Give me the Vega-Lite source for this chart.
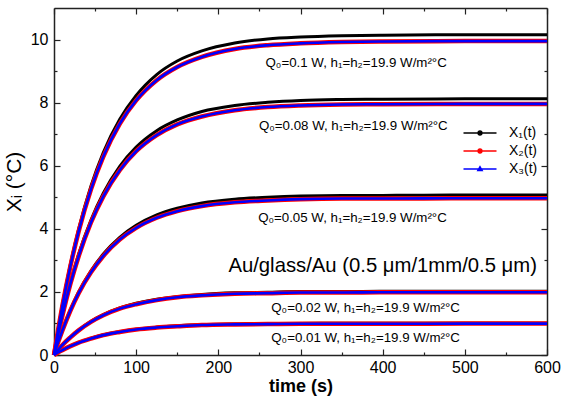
{
  "$schema": "https://vega.github.io/schema/vega-lite/v6.json",
  "width": 493,
  "height": 347,
  "autosize": {"type": "none"},
  "padding": {"left": 54, "top": 8, "right": 16, "bottom": 46},
  "config": {
    "view": {"stroke": null},
    "axis": {
      "grid": false,
      "labelFont": "Liberation Sans",
      "titleFont": "Liberation Sans",
      "labelFontSize": 16,
      "labelColor": "#000",
      "titleColor": "#000",
      "domainColor": "#222",
      "domainWidth": 1.5,
      "tickColor": "#222",
      "tickWidth": 1.2,
      "labelFlush": false
    },
    "legend": {"labelFont": "Liberation Sans"}
  },
  "datasets": {
    "curves": [
      {"t":0,"Q":"0.1","X1":0,"X2":0,"X3":0},
      {"t":5,"Q":"0.1","X1":0.81,"X2":0.80,"X3":0.80},
      {"t":10,"Q":"0.1","X1":1.56,"X2":1.53,"X3":1.53},
      {"t":20,"Q":"0.1","X1":2.88,"X2":2.82,"X3":2.82},
      {"t":30,"Q":"0.1","X1":3.99,"X2":3.92,"X3":3.92},
      {"t":45,"Q":"0.1","X1":5.36,"X2":5.25,"X3":5.25},
      {"t":60,"Q":"0.1","X1":6.42,"X2":6.29,"X3":6.29},
      {"t":80,"Q":"0.1","X1":7.47,"X2":7.33,"X3":7.33},
      {"t":100,"Q":"0.1","X1":8.23,"X2":8.07,"X3":8.07},
      {"t":125,"Q":"0.1","X1":8.89,"X2":8.71,"X3":8.71},
      {"t":150,"Q":"0.1","X1":9.32,"X2":9.13,"X3":9.13},
      {"t":180,"Q":"0.1","X1":9.64,"X2":9.45,"X3":9.45},
      {"t":220,"Q":"0.1","X1":9.89,"X2":9.70,"X3":9.70},
      {"t":260,"Q":"0.1","X1":10.02,"X2":9.82,"X3":9.82},
      {"t":300,"Q":"0.1","X1":10.08,"X2":9.88,"X3":9.88},
      {"t":350,"Q":"0.1","X1":10.12,"X2":9.92,"X3":9.92},
      {"t":400,"Q":"0.1","X1":10.14,"X2":9.94,"X3":9.94},
      {"t":500,"Q":"0.1","X1":10.15,"X2":9.95,"X3":9.95},
      {"t":600,"Q":"0.1","X1":10.15,"X2":9.95,"X3":9.95},

      {"t":0,"Q":"0.08","X1":0,"X2":0,"X3":0},
      {"t":5,"Q":"0.08","X1":0.65,"X2":0.64,"X3":0.64},
      {"t":10,"Q":"0.08","X1":1.25,"X2":1.22,"X3":1.22},
      {"t":20,"Q":"0.08","X1":2.30,"X2":2.26,"X3":2.26},
      {"t":30,"Q":"0.08","X1":3.20,"X2":3.13,"X3":3.13},
      {"t":45,"Q":"0.08","X1":4.28,"X2":4.20,"X3":4.20},
      {"t":60,"Q":"0.08","X1":5.13,"X2":5.03,"X3":5.03},
      {"t":80,"Q":"0.08","X1":5.98,"X2":5.86,"X3":5.86},
      {"t":100,"Q":"0.08","X1":6.59,"X2":6.46,"X3":6.46},
      {"t":125,"Q":"0.08","X1":7.11,"X2":6.97,"X3":6.97},
      {"t":150,"Q":"0.08","X1":7.45,"X2":7.31,"X3":7.31},
      {"t":180,"Q":"0.08","X1":7.72,"X2":7.56,"X3":7.56},
      {"t":220,"Q":"0.08","X1":7.91,"X2":7.76,"X3":7.76},
      {"t":260,"Q":"0.08","X1":8.01,"X2":7.86,"X3":7.86},
      {"t":300,"Q":"0.08","X1":8.07,"X2":7.91,"X3":7.91},
      {"t":350,"Q":"0.08","X1":8.10,"X2":7.94,"X3":7.94},
      {"t":400,"Q":"0.08","X1":8.11,"X2":7.95,"X3":7.95},
      {"t":500,"Q":"0.08","X1":8.12,"X2":7.96,"X3":7.96},
      {"t":600,"Q":"0.08","X1":8.12,"X2":7.96,"X3":7.96},

      {"t":0,"Q":"0.05","X1":0,"X2":0,"X3":0},
      {"t":5,"Q":"0.05","X1":0.41,"X2":0.40,"X3":0.40},
      {"t":10,"Q":"0.05","X1":0.78,"X2":0.76,"X3":0.76},
      {"t":20,"Q":"0.05","X1":1.44,"X2":1.41,"X3":1.41},
      {"t":30,"Q":"0.05","X1":2.00,"X2":1.96,"X3":1.96},
      {"t":45,"Q":"0.05","X1":2.67,"X2":2.62,"X3":2.62},
      {"t":60,"Q":"0.05","X1":3.20,"X2":3.14,"X3":3.14},
      {"t":80,"Q":"0.05","X1":3.73,"X2":3.66,"X3":3.66},
      {"t":100,"Q":"0.05","X1":4.11,"X2":4.03,"X3":4.03},
      {"t":125,"Q":"0.05","X1":4.44,"X2":4.35,"X3":4.35},
      {"t":150,"Q":"0.05","X1":4.65,"X2":4.56,"X3":4.56},
      {"t":180,"Q":"0.05","X1":4.82,"X2":4.72,"X3":4.72},
      {"t":220,"Q":"0.05","X1":4.94,"X2":4.84,"X3":4.84},
      {"t":260,"Q":"0.05","X1":5.00,"X2":4.90,"X3":4.90},
      {"t":300,"Q":"0.05","X1":5.04,"X2":4.94,"X3":4.94},
      {"t":350,"Q":"0.05","X1":5.06,"X2":4.96,"X3":4.96},
      {"t":400,"Q":"0.05","X1":5.06,"X2":4.96,"X3":4.96},
      {"t":500,"Q":"0.05","X1":5.07,"X2":4.97,"X3":4.97},
      {"t":600,"Q":"0.05","X1":5.07,"X2":4.97,"X3":4.97},

      {"t":0,"Q":"0.02","X1":0,"X2":0,"X3":0},
      {"t":5,"Q":"0.02","X1":0.16,"X2":0.16,"X3":0.16},
      {"t":10,"Q":"0.02","X1":0.31,"X2":0.31,"X3":0.31},
      {"t":20,"Q":"0.02","X1":0.57,"X2":0.56,"X3":0.56},
      {"t":30,"Q":"0.02","X1":0.79,"X2":0.78,"X3":0.78},
      {"t":45,"Q":"0.02","X1":1.07,"X2":1.05,"X3":1.05},
      {"t":60,"Q":"0.02","X1":1.28,"X2":1.26,"X3":1.26},
      {"t":80,"Q":"0.02","X1":1.49,"X2":1.47,"X3":1.47},
      {"t":100,"Q":"0.02","X1":1.64,"X2":1.61,"X3":1.61},
      {"t":125,"Q":"0.02","X1":1.77,"X2":1.74,"X3":1.74},
      {"t":150,"Q":"0.02","X1":1.85,"X2":1.83,"X3":1.83},
      {"t":180,"Q":"0.02","X1":1.92,"X2":1.89,"X3":1.89},
      {"t":220,"Q":"0.02","X1":1.97,"X2":1.94,"X3":1.94},
      {"t":260,"Q":"0.02","X1":1.99,"X2":1.96,"X3":1.96},
      {"t":300,"Q":"0.02","X1":2.01,"X2":1.98,"X3":1.98},
      {"t":350,"Q":"0.02","X1":2.01,"X2":1.98,"X3":1.98},
      {"t":400,"Q":"0.02","X1":2.02,"X2":1.99,"X3":1.99},
      {"t":500,"Q":"0.02","X1":2.02,"X2":1.99,"X3":1.99},
      {"t":600,"Q":"0.02","X1":2.02,"X2":1.99,"X3":1.99},

      {"t":0,"Q":"0.01","X1":0,"X2":0,"X3":0},
      {"t":5,"Q":"0.01","X1":0.08,"X2":0.08,"X3":0.08},
      {"t":10,"Q":"0.01","X1":0.16,"X2":0.15,"X3":0.15},
      {"t":20,"Q":"0.01","X1":0.29,"X2":0.28,"X3":0.28},
      {"t":30,"Q":"0.01","X1":0.40,"X2":0.39,"X3":0.39},
      {"t":45,"Q":"0.01","X1":0.53,"X2":0.52,"X3":0.52},
      {"t":60,"Q":"0.01","X1":0.64,"X2":0.63,"X3":0.63},
      {"t":80,"Q":"0.01","X1":0.74,"X2":0.73,"X3":0.73},
      {"t":100,"Q":"0.01","X1":0.82,"X2":0.81,"X3":0.81},
      {"t":125,"Q":"0.01","X1":0.88,"X2":0.87,"X3":0.87},
      {"t":150,"Q":"0.01","X1":0.93,"X2":0.91,"X3":0.91},
      {"t":180,"Q":"0.01","X1":0.96,"X2":0.95,"X3":0.95},
      {"t":220,"Q":"0.01","X1":0.98,"X2":0.97,"X3":0.97},
      {"t":260,"Q":"0.01","X1":1.00,"X2":0.98,"X3":0.98},
      {"t":300,"Q":"0.01","X1":1.00,"X2":0.99,"X3":0.99},
      {"t":350,"Q":"0.01","X1":1.01,"X2":0.99,"X3":0.99},
      {"t":400,"Q":"0.01","X1":1.01,"X2":0.99,"X3":0.99},
      {"t":500,"Q":"0.01","X1":1.01,"X2":0.995,"X3":0.995},
      {"t":600,"Q":"0.01","X1":1.01,"X2":0.995,"X3":0.995}
    ],
    "qlabels": [
      {"t":478,"v":9.27,"label":"Q₀=0.1 W, h₁=h₂=19.9 W/m²°C"},
      {"t":479,"v":7.25,"label":"Q₀=0.08 W, h₁=h₂=19.9 W/m²°C"},
      {"t":478,"v":4.35,"label":"Q₀=0.05 W, h₁=h₂=19.9 W/m²°C"},
      {"t":494,"v":1.49,"label":"Q₀=0.02 W, h₁=h₂=19.9 W/m²°C"},
      {"t":494,"v":0.54,"label":"Q₀=0.01 W, h₁=h₂=19.9 W/m²°C"}
    ],
    "note": [
      {"t":400,"v":2.83,"label":"Au/glass/Au (0.5 μm/1mm/0.5 μm)"}
    ]
  },
  "resolve": {"axis": {"x": "independent", "y": "independent"}},
  "layer": [
    {
      "data": {"name": "curves"},
      "mark": {"type": "line", "interpolate": "monotone", "strokeWidth": 3},
      "encoding": {
        "x": {"field": "t", "type": "quantitative",
              "scale": {"domain": [0, 600], "nice": false},
              "axis": {"orient": "bottom", "title": "time (s)", "titleFontSize": 18, "titleFontWeight": "bold", "titlePadding": 2,
                       "values": [0,50,100,150,200,250,300,350,400,450,500,550,600],
                       "labelExpr": "datum.value % 100 === 0 ? datum.label : ''",
                       "tickSize": {"condition": {"test": "datum.value % 100 === 0", "value": -6}, "value": -3},
                       "labelPadding": 10}},
        "y": {"field": "X1", "type": "quantitative",
              "scale": {"domain": [0, 11], "nice": false},
              "axis": {"orient": "left", "title": "Xᵢ (°C)", "titleFontSize": 21, "titleFontWeight": "normal", "titlePadding": 6,
                       "values": [0,1,2,3,4,5,6,7,8,9,10],
                       "labelExpr": "datum.value % 2 === 0 ? datum.label : ''",
                       "tickSize": {"condition": {"test": "datum.value % 2 === 0", "value": -6}, "value": -3},
                       "labelPadding": 12}},
        "detail": {"field": "Q"},
        "color": {"datum": "X₁(t)", "type": "nominal",
                  "scale": {"domain": ["X₁(t)", "X₂(t)", "X₃(t)"], "range": ["#000000", "#ff0000", "#0000ff"]},
                  "legend": {"title": null, "orient": "none", "legendX": 419, "legendY": 118,
                             "symbolType": "M-3,0L3,0M-0.36,0A0.36,0.36,0,1,1,0.36,0A0.36,0.36,0,1,1,-0.36,0Z",
                             "symbolSize": 121, "symbolStrokeWidth": 1.3, "labelFontSize": 14, "labelOffset": 22, "rowPadding": 4,
                             "encode": {"symbols": {"update": {
                               "shape": {"signal": "datum.value === 'X₃(t)' ? 'M-3,0L3,0M0,-0.45L0.42,0.28L-0.42,0.28Z' : 'M-3,0L3,0M-0.36,0A0.36,0.36,0,1,1,0.36,0A0.36,0.36,0,1,1,-0.36,0Z'"},
                               "fill": {"signal": "datum.value === 'X₁(t)' ? '#000000' : datum.value === 'X₂(t)' ? '#ff0000' : '#0000ff'"}
                             }}}}}
      }
    },
    {
      "data": {"name": "curves"},
      "mark": {"type": "line", "interpolate": "monotone", "strokeWidth": 4.5},
      "encoding": {
        "x": {"field": "t", "type": "quantitative", "axis": null},
        "y": {"field": "X2", "type": "quantitative", "axis": null},
        "detail": {"field": "Q"},
        "color": {"datum": "X₂(t)", "type": "nominal"}
      }
    },
    {
      "data": {"name": "curves"},
      "mark": {"type": "line", "interpolate": "monotone", "strokeWidth": 2.6},
      "encoding": {
        "x": {"field": "t", "type": "quantitative", "axis": null},
        "y": {"field": "X3", "type": "quantitative", "axis": null},
        "detail": {"field": "Q"},
        "color": {"datum": "X₃(t)", "type": "nominal"}
      }
    },
    {
      "data": {"name": "qlabels"},
      "mark": {"type": "text", "align": "right", "baseline": "middle", "font": "Liberation Sans", "fontSize": 13.3, "color": "#000"},
      "encoding": {
        "x": {"field": "t", "type": "quantitative",
              "axis": {"orient": "top", "title": null, "labels": false,
                       "values": [0,50,100,150,200,250,300,350,400,450,500,550,600],
                       "tickSize": {"condition": {"test": "datum.value % 100 === 0", "value": -6}, "value": -3}}},
        "y": {"field": "v", "type": "quantitative",
              "axis": {"orient": "right", "title": null, "labels": false,
                       "values": [0,1,2,3,4,5,6,7,8,9,10],
                       "tickSize": {"condition": {"test": "datum.value % 2 === 0", "value": -6}, "value": -3}}},
        "text": {"field": "label"}
      }
    },
    {
      "data": {"name": "note"},
      "mark": {"type": "text", "align": "center", "baseline": "middle", "font": "Liberation Sans", "fontSize": 20.3, "color": "#000"},
      "encoding": {
        "x": {"field": "t", "type": "quantitative", "axis": null},
        "y": {"field": "v", "type": "quantitative", "axis": null},
        "text": {"field": "label"}
      }
    }
  ]
}
